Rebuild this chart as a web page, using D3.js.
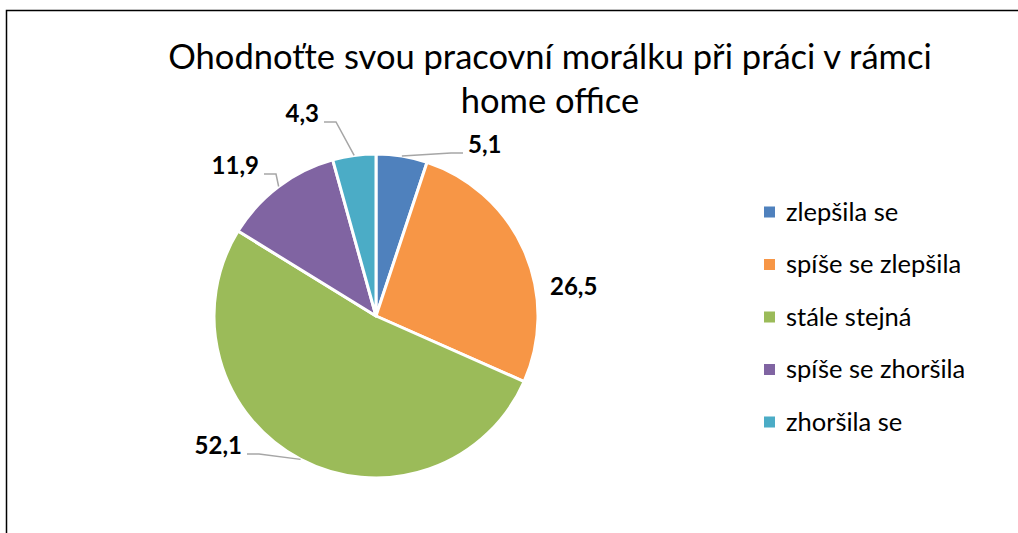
<!DOCTYPE html>
<html>
<head>
<meta charset="utf-8">
<script src="https://cdn.jsdelivr.net/npm/d3@7"></script>
<style>
    body { margin: 0; background: #fff; }
    svg text { font-family: Lato, "Open Sans", sans-serif; }
</style>
</head>
<body>
<div id="chart"></div>
<script>
var categories = ["zlepšila se", "spíše se zlepšila", "stále stejná", "spíše se zhoršila", "zhoršila se"];
var values = [5.1, 26.5, 52.1, 11.9, 4.3];
var colors = ["#4F81BD", "#F79646", "#9BBB59", "#8064A2", "#4BACC6"];
var titleLines = ["Ohodnoťte svou pracovní morálku při práci v rámci", "home office"];

// label placement (offset of text anchor from pie centre), Excel "best fit" look
var labelLayout = [
    { dx: 92, dy: -163, anchor: "start", leader: true },
    { dx: 174, dy: -21, anchor: "start", leader: false },
    { dx: -134, dy: 138, anchor: "end", leader: true },
    { dx: -117, dy: -142, anchor: "end", leader: true },
    { dx: -57, dy: -194, anchor: "end", leader: true }
];

(function() {
    var width = 1018, height = 533;
    var cx = 376, cy = 316, radius = 162;

    var svg = d3.select("#chart").append("svg")
        .attr("width", width)
        .attr("height", height);

    svg.append("rect")
        .attr("x", 6.5).attr("y", 10.5)
        .attr("width", 1030).attr("height", 560)
        .attr("fill", "none")
        .attr("stroke", "#000")
        .attr("stroke-width", 1.5);

    svg.selectAll(".title")
        .data(titleLines)
        .enter().append("text")
        .attr("class", "title")
        .attr("x", 550)
        .attr("y", function(d, i) { return 69 + i * 44; })
        .attr("text-anchor", "middle")
        .attr("font-size", "34.5px")
        .attr("fill", "#000")
        .text(function(d) { return d; });

    var pie = d3.pie().sort(null).value(function(d) { return d; });
    var arcs = pie(values);
    var arc = d3.arc().innerRadius(0).outerRadius(radius);

    var g = svg.append("g").attr("transform", "translate(" + cx + "," + cy + ")");

    g.selectAll("path.slice")
        .data(arcs)
        .enter().append("path")
        .attr("class", "slice")
        .attr("d", arc)
        .attr("fill", function(d, i) { return colors[i]; })
        .attr("stroke", "#fff")
        .attr("stroke-width", 3)
        .attr("stroke-linejoin", "round");

    var labels = g.selectAll("text.lbl")
        .data(arcs)
        .enter().append("text")
        .attr("class", "lbl")
        .attr("x", function(d, i) { return labelLayout[i].dx; })
        .attr("y", function(d, i) { return labelLayout[i].dy; })
        .attr("text-anchor", function(d, i) { return labelLayout[i].anchor; })
        .attr("font-size", "24px")
        .attr("font-weight", "bold")
        .attr("fill", "#000")
        .text(function(d) { return String(d.data).replace(".", ","); });

    // leader lines: from arc edge at mid angle -> elbow -> beside the label
    labels.each(function(d, i) {
        var lay = labelLayout[i];
        if (!lay.leader) return;
        var mid = (d.startAngle + d.endAngle) / 2;
        var p0 = [Math.sin(mid) * radius, -Math.cos(mid) * radius];
        var side = lay.anchor === "end" ? 1 : -1;
        var edgeX = lay.anchor === "end" ? lay.dx + 5 : lay.dx - 5;
        var end = [edgeX, lay.dy];
        var elbow = [edgeX + side * 12, lay.dy];
        g.append("polyline")
            .attr("points", [end, elbow, p0].map(function(p) { return p.join(","); }).join(" "))
            .attr("fill", "none")
            .attr("stroke", "#A6A6A6")
            .attr("stroke-width", 1.5);
    });

    var legend = svg.append("g").attr("transform", "translate(764,212)");
    var item = legend.selectAll("g")
        .data(categories)
        .enter().append("g")
        .attr("transform", function(d, i) { return "translate(0," + (i * 52.5) + ")"; });

    item.append("rect")
        .attr("x", 0).attr("y", -5.5)
        .attr("width", 11).attr("height", 11)
        .attr("fill", function(d, i) { return colors[i]; });

    item.append("text")
        .attr("x", 22)
        .attr("y", 0)
        .attr("dy", "0.35em")
        .attr("font-size", "25.5px")
        .attr("fill", "#000")
        .text(function(d) { return d; });
})();
</script>
</body>
</html>
